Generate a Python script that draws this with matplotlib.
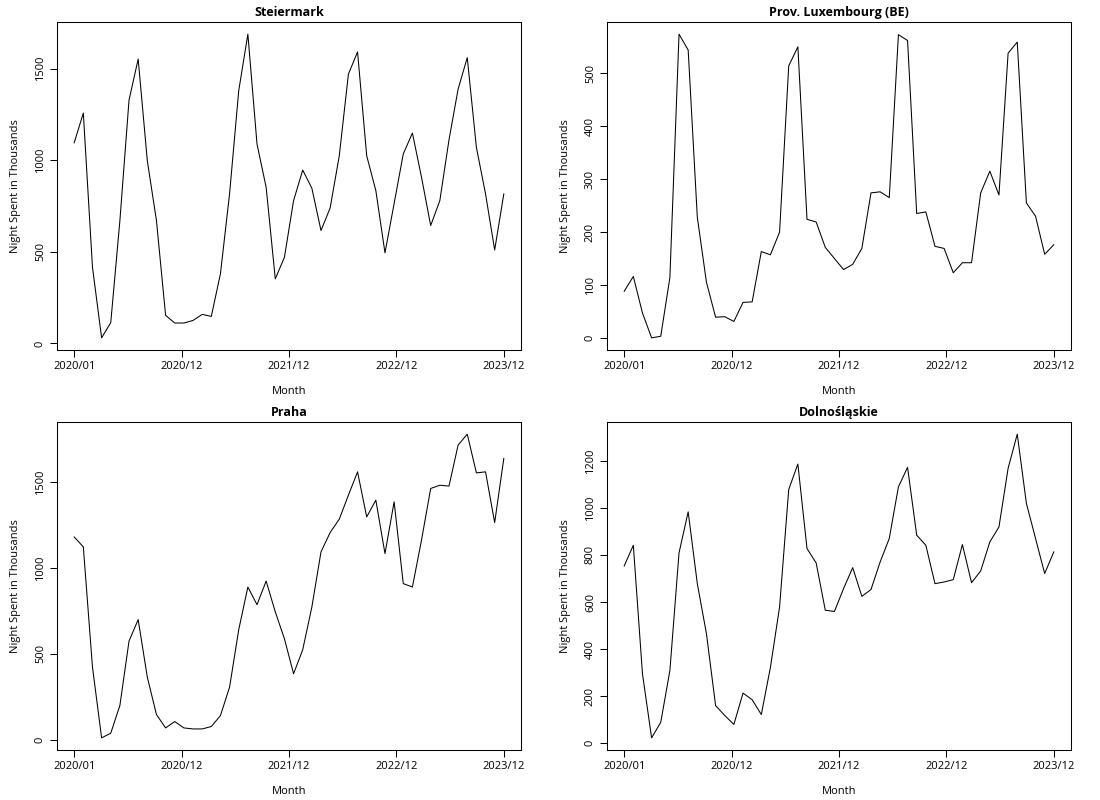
import numpy as np
import matplotlib
matplotlib.use("Agg")
import matplotlib.pyplot as plt

plt.rcParams['font.family'] = ['Open Sans', 'DejaVu Sans']

# 48 monthly values, 2020/01 .. 2023/12 (nights spent, thousands)
steiermark = [1095, 1257, 416, 30, 113, 670, 1328, 1552, 997, 670,
              153, 111, 111, 125, 158, 147, 380, 817, 1379, 1688,
              1088, 852, 352, 470, 779, 946, 847, 616, 739, 1024,
              1470, 1591, 1024, 834, 494, 763, 1034, 1148, 906, 643,
              779, 1110, 1388, 1560, 1070, 816, 510, 816]
luxembourg = [88, 116, 47, 0, 3, 114, 574, 544, 228, 105,
              39, 40, 31, 67, 68, 163, 157, 200, 514, 550,
              224, 219, 171, 150, 129, 139, 169, 274, 276, 265,
              573, 562, 235, 238, 173, 169, 123, 142, 142, 274,
              315, 270, 538, 559, 255, 230, 158, 176]
praha = [1182, 1124, 423, 10, 37, 199, 575, 700, 364, 146,
         68, 105, 68, 62, 62, 76, 140, 306, 641, 890,
         787, 925, 745, 588, 384, 524, 773, 1095, 1208, 1286,
         1426, 1562, 1299, 1397, 1085, 1387, 910, 890, 1165, 1465,
         1484, 1479, 1718, 1782, 1556, 1562, 1266, 1640]
dolnoslaskie = [753, 841, 295, 23, 89, 309, 809, 983, 678, 465,
                160, 118, 80, 213, 185, 122, 323, 579, 1078, 1186,
                827, 766, 565, 560, 657, 746, 624, 653, 770, 870,
                1089, 1172, 884, 841, 678, 685, 695, 844, 682, 732,
                855, 919, 1168, 1313, 1019, 870, 721, 813]

titles = ["Steiermark", "Prov. Luxembourg (BE)", "Praha", "Dolnośląskie"]
series = [steiermark, luxembourg, praha, dolnoslaskie]
yticks = [[0, 500, 1000, 1500],
          [0, 100, 200, 300, 400, 500],
          [0, 500, 1000, 1500],
          [0, 200, 400, 600, 800, 1000, 1200]]
xtick_labels = ["2020/01", "2020/12", "2021/12", "2022/12", "2023/12"]

W, H = 1100, 800
fig = plt.figure(figsize=(W / 100, H / 100), dpi=100)

# axes boxes in pixels: (left, top, right, bottom)
boxes = [(57, 22, 521, 350), (607, 22, 1071, 350),
         (57, 422, 521, 750), (607, 422, 1071, 750)]

for box, title, vals, yt in zip(boxes, titles, series, yticks):
    l, t, r, b = box
    ax = fig.add_axes([l / W, 1 - b / H, (r - l) / W, (b - t) / H])
    x = np.arange(len(vals))
    ax.plot(x, vals, color='black', linewidth=0.75)

    n = len(vals) - 1
    ax.set_xlim(-0.04 * n, n * 1.04)
    lo, hi = min(vals), max(vals)
    pad = 0.04 * (hi - lo)
    ax.set_ylim(lo - pad, hi + pad)

    ax.set_xticks(np.linspace(0, n, 5))
    ax.set_xticklabels(xtick_labels)
    ax.set_yticks(yt)
    ax.set_yticklabels([str(v) for v in yt], rotation=90, va='center')
    ax.tick_params(direction='out', length=5, width=0.75, pad=3,
                   labelsize=8, colors='black')

    for s in ax.spines.values():
        s.set_linewidth(0.75)
        s.set_color('black')

    ax.set_title(title, fontsize=9, fontweight='bold', pad=4)
    ax.set_xlabel('Month', fontsize=8, va='center')
    ax.xaxis.set_label_coords(0.5, -41 / (b - t))
    ax.set_ylabel('Night Spent in Thousands', fontsize=8, va='center')
    ax.yaxis.set_label_coords(-41 / (r - l), 0.5)

fig.savefig('out.png', dpi=100)
